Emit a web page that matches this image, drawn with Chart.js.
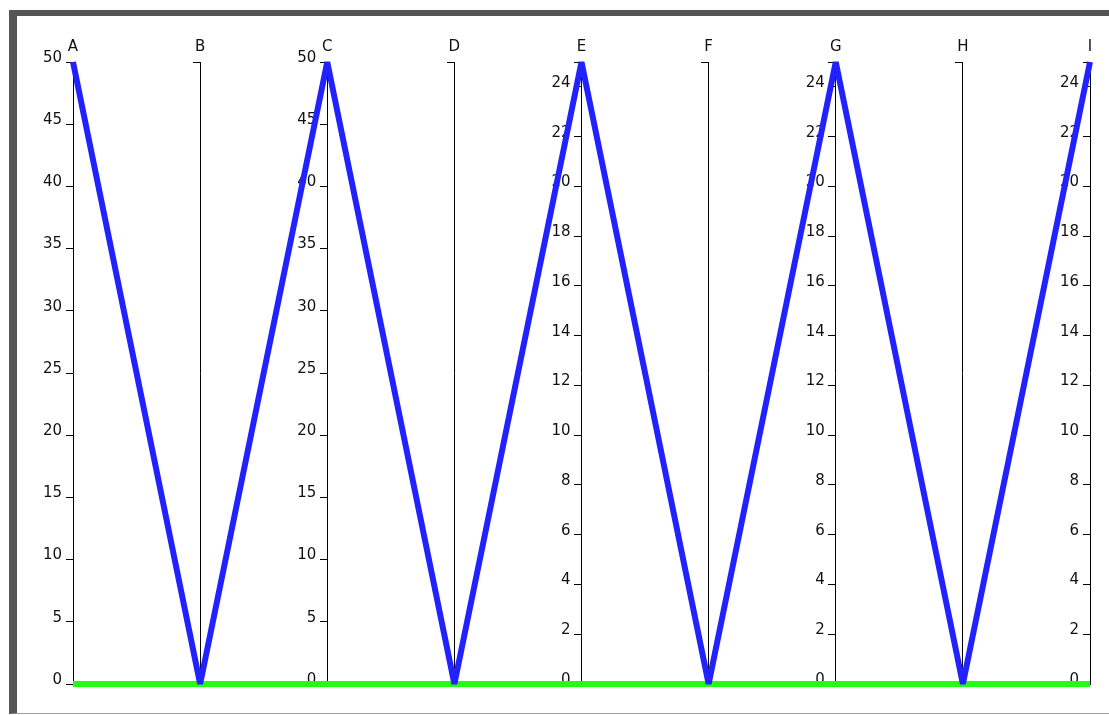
<!DOCTYPE html>
<html><head><meta charset="utf-8">
<script src="https://cdn.jsdelivr.net/npm/chart.js@4"></script>
<style>
html,body{margin:0;padding:0;background:#fff;width:1109px;height:715px;overflow:hidden}
#frame{position:absolute;left:9px;top:10px;width:1300px;height:697px;border-top:6px solid #555;border-left:8px solid #555;border-bottom:1px solid #a0a0a0}
canvas{position:absolute;left:0;top:0}
</style></head><body>
<div id="frame"></div>
<canvas id="c" width="1109" height="715"></canvas>
<script>
const dimensions = ['A','B','C','D','E','F','G','H','I'];
const dimensionMax = [50, 0, 50, 0, 25, 0, 25, 0, 25];
const ticks0to50 = [0,5,10,15,20,25,30,35,40,45,50];
const ticks0to25 = [0,2,4,6,8,10,12,14,16,18,20,22,24];
const axisTicks = [ticks0to50, [], ticks0to50, [], ticks0to25, [], ticks0to25, [], ticks0to25];
const seriesBlue = [50, 0, 50, 0, 25, 0, 25, 0, 25];
const seriesGreen = [0, 0, 0, 0, 0, 0, 0, 0, 0];

const FONT = {family: 'DejaVu Sans', size: 15};
const TEXT = '#111';
const PAD = {left:73, right:19, top:32, bottom:31};
const TICK_LEN = 7, LABEL_GAP = 4;
const axisSpacing = (1109 - PAD.left - PAD.right) / (dimensions.length - 1);
const labelShift = (TICK_LEN + LABEL_GAP) / axisSpacing;

function normalize(vals){ return vals.map((v,i)=> dimensionMax[i] ? v/dimensionMax[i] : 0); }

const scales = {
  x: {type:'category', position:'top', offset:false,
      grid:{display:false, drawTicks:false}, border:{display:false},
      ticks:{padding:6, font:FONT, color:TEXT, autoSkip:false, maxRotation:0}},
  yn: {display:false, min:0, max:1}
};
dimensions.forEach((d,i)=>{
  const mx = dimensionMax[i] || 1;
  const tv = axisTicks[i];
  const build = (s)=>{
    const vals = Array.from(new Set([0, ...tv, mx])).sort((a,b)=>a-b);
    s.ticks = vals.map(v=>({value:v}));
  };
  // axis line + tick marks
  scales['y_'+d] = {
    type:'linear', position:{x:i}, min:0, max:mx, z:1,
    afterBuildTicks: build,
    grid:{drawOnChartArea:false, drawTicks:true, tickLength:TICK_LEN, tickColor:'#000', tickWidth:1},
    border:{display:true, color:'#000', width:1},
    ticks:{display:false, autoSkip:false}
  };
  // tick labels
  scales['yl_'+d] = {
    type:'linear', position:{x:i - labelShift}, min:0, max:mx, z:1,
    afterBuildTicks: build,
    grid:{display:false, drawTicks:false}, border:{display:false},
    ticks:{autoSkip:false, font:FONT, color:TEXT, labelOffset:-4,
      callback:(v)=> tv.includes(v) ? String(v) : ''}
  };
});

new Chart(document.getElementById('c'), {
  type:'line',
  data:{labels:dimensions, datasets:[
    {label:'blue', data:normalize(seriesBlue), yAxisID:'yn', borderColor:'#2222ff', borderWidth:6,
     pointRadius:0, tension:0, borderJoinStyle:'bevel', fill:false, clip:false},
    {label:'green', data:normalize(seriesGreen), yAxisID:'yn', borderColor:'#22ff11', borderWidth:6,
     pointRadius:0, tension:0, borderJoinStyle:'bevel', fill:false, clip:false}
  ]},
  options:{
    responsive:false, animation:false, events:[],
    layout:{padding:PAD},
    plugins:{legend:{display:false}, tooltip:{enabled:false}},
    scales
  }
});
</script>
</body></html>
